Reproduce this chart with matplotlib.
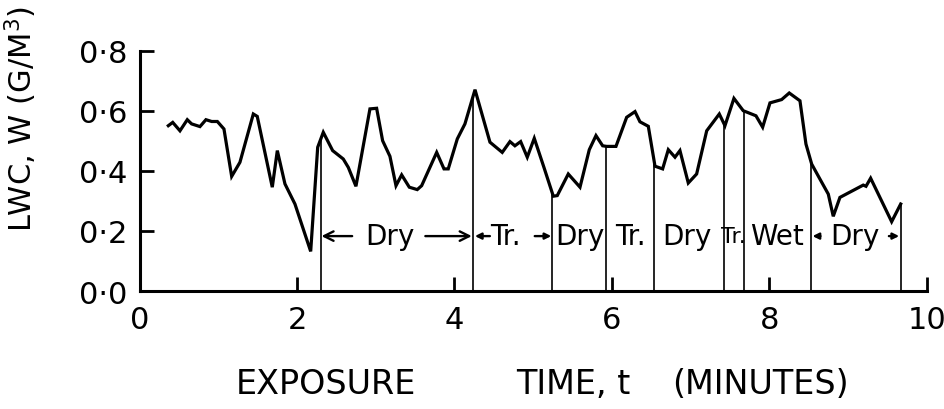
import numpy as np
import matplotlib
matplotlib.use("Agg")
import matplotlib.pyplot as plt

# Liquid water content record against exposure time
time_min = [0.364, 0.42, 0.512, 0.605, 0.66, 0.766, 0.842, 0.915, 0.987, 1.071,
            1.169, 1.274, 1.444, 1.494, 1.685, 1.749, 1.846, 1.973, 2.173, 2.262,
            2.333, 2.452, 2.587, 2.651, 2.748, 2.926, 3.011, 3.087, 3.180, 3.257,
            3.329, 3.426, 3.527, 3.583, 3.774, 3.867, 3.921, 4.036, 4.133, 4.261,
            4.451, 4.607, 4.705, 4.768, 4.841, 4.925, 5.014, 5.137, 5.256, 5.306,
            5.446, 5.595, 5.713, 5.798, 5.883, 5.934, 6.052, 6.188, 6.294, 6.357,
            6.463, 6.548, 6.645, 6.717, 6.802, 6.865, 6.971, 7.077, 7.205, 7.365,
            7.437, 7.551, 7.669, 7.755, 7.831, 7.916, 8.009, 8.157, 8.254, 8.39,
            8.466, 8.539, 8.644, 8.75, 8.813, 8.898, 9.194, 9.229, 9.288, 9.555,
            9.67]
lwc = [0.551, 0.562, 0.534, 0.571, 0.557, 0.548, 0.571, 0.565, 0.565, 0.540,
       0.382, 0.429, 0.590, 0.582, 0.346, 0.468, 0.357, 0.290, 0.132, 0.479,
       0.529, 0.468, 0.440, 0.412, 0.349, 0.607, 0.609, 0.501, 0.449, 0.351,
       0.387, 0.346, 0.338, 0.351, 0.462, 0.407, 0.407, 0.507, 0.557, 0.671,
       0.496, 0.462, 0.498, 0.484, 0.498, 0.446, 0.509, 0.412, 0.316, 0.318,
       0.390, 0.346, 0.471, 0.518, 0.484, 0.482, 0.482, 0.579, 0.598, 0.564,
       0.549, 0.416, 0.407, 0.471, 0.446, 0.468, 0.360, 0.390, 0.534, 0.590,
       0.551, 0.642, 0.601, 0.592, 0.584, 0.546, 0.627, 0.638, 0.660, 0.634,
       0.490, 0.423, 0.373, 0.323, 0.249, 0.312, 0.353, 0.349, 0.376, 0.231,
       0.290]

# Regime boundaries (minutes) and the regime names between them
boundaries = [2.30, 4.24, 5.24, 5.93, 6.53, 7.42, 7.68, 8.53, 9.67]
regime_labels = ["Dry", "Tr.", "Dry", "Tr.", "Dry", "Tr.", "Wet", "Dry"]
regime_label_x = [3.18, 4.65, 5.59, 6.23, 6.95, 7.55, 8.10, 9.09]

x_ticks = [0, 2, 4, 6, 8, 10]
y_ticks = [0.0, 0.2, 0.4, 0.6, 0.8]
y_tick_labels = ["0·0", "0·2", "0·4", "0·6", "0·8"]

plt.rcParams['font.family'] = ['DejaVu Sans']

fig = plt.figure(figsize=(9.45, 4.10), dpi=100)
ax = fig.add_axes([0.1478, 0.2878, 0.8328, 0.5854])

ax.plot(time_min, lwc, color='black', lw=2.3, solid_joinstyle='miter')

# Vertical boundary lines rising from the axis to the curve
for b in boundaries:
    top = np.interp(b, time_min, lwc)
    ax.plot([b, b], [0, top], color='black', lw=1.2)

label_y = 0.183
for name, lx in zip(regime_labels, regime_label_x):
    if name == "Tr." and lx > 7.4:
        ax.text(lx, label_y, name, ha='center', va='center', fontsize=16,
                family=['Liberation Sans Narrow', 'DejaVu Sans'], color='black')
    else:
        ax.text(lx, label_y, name, ha='center', va='center', fontsize=20,
                color='black')

# Arrows marking the extent of the dry and transition periods
arr_open = dict(arrowstyle='->', color='black', lw=1.7,
                mutation_scale=17, shrinkA=0, shrinkB=0)
ax.annotate('', xy=(2.31, label_y), xytext=(2.70, label_y), arrowprops=arr_open)
ax.annotate('', xy=(4.22, label_y), xytext=(3.63, label_y), arrowprops=arr_open)
arr_small = dict(arrowstyle='-|>', color='black', lw=1.7,
                 mutation_scale=9, shrinkA=0, shrinkB=0)
ax.annotate('', xy=(4.26, label_y), xytext=(4.45, label_y), arrowprops=arr_small)
ax.annotate('', xy=(5.23, label_y), xytext=(5.02, label_y), arrowprops=arr_small)
ax.annotate('', xy=(8.55, label_y), xytext=(8.65, label_y), arrowprops=arr_small)
ax.annotate('', xy=(9.65, label_y), xytext=(9.52, label_y), arrowprops=arr_small)

ax.set_xlim(0, 10)
ax.set_ylim(0, 0.8)
ax.set_xticks(x_ticks)
ax.set_xticklabels([str(t) for t in x_ticks])
ax.set_yticks(y_ticks)
ax.set_yticklabels(y_tick_labels)

for side in ('top', 'right'):
    ax.spines[side].set_visible(False)
for side in ('left', 'bottom'):
    ax.spines[side].set_linewidth(2.2)

ax.tick_params(axis='both', direction='in', length=10, width=2.0,
               labelsize=22, colors='black')
ax.tick_params(axis='x', pad=10)
ax.tick_params(axis='y', pad=9)

# Axis titles
xlab_y = 0.062
fig.text(0.345, xlab_y, "EXPOSURE", ha='center', va='center', fontsize=24)
fig.text(0.607, xlab_y, "TIME, t", ha='center', va='center', fontsize=24)
fig.text(0.805, xlab_y, "(MINUTES)", ha='center', va='center', fontsize=24)
fig.text(0.022, 0.71, "LWC, W (G/M$^3$)", rotation=90, ha='center',
         va='center', fontsize=22)

fig.savefig("out.png", dpi=100)
